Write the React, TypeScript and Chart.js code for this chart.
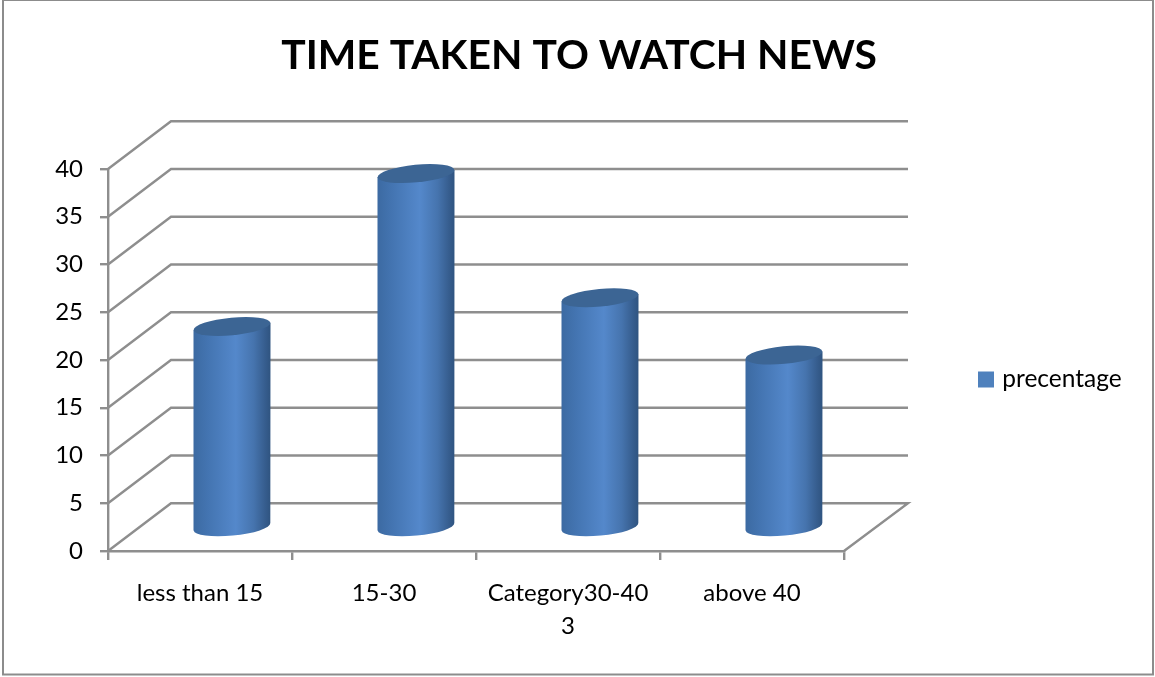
import React, { useEffect, useRef } from "react";
import { Chart, registerables } from "chart.js";

Chart.register(...registerables);

const categories: (string | string[])[] = ["less than 15", "15-30", ["Category30-40", "3"], "above 40"];
const seriesName = "precentage";
const values = [21, 37, 24, 18];
const titleText = "TIME TAKEN TO WATCH NEWS";

const FONT = "Lato, Carlito, 'Open Sans', sans-serif";
const LINE = "#8e8e8e";
const LINE_W = 2.4;
const DEPTH_X = 63;
const DEPTH_Y = -47.7;

const walls3d = {
  id: "walls3d",
  afterLayout(chart: any) {
    chart.legend.top += 41;
    chart.legend.bottom += 41;
    chart.legend.right = chart.width;
  },
  beforeDatasetsDraw(chart: any) {
    const { ctx, chartArea, scales } = chart;
    const y = scales.y;
    ctx.save();
    ctx.strokeStyle = LINE;
    ctx.lineWidth = LINE_W;
    y.ticks.forEach((_: any, i: number) => {
      const py = y.getPixelForTick(i);
      ctx.beginPath();
      ctx.moveTo(chartArea.left, py);
      ctx.lineTo(chartArea.left + DEPTH_X, py + DEPTH_Y);
      ctx.lineTo(chartArea.right + DEPTH_X + 1, py + DEPTH_Y);
      if (i === 0) ctx.lineTo(chartArea.right, py);
      ctx.stroke();
    });
    ctx.restore();

    const meta = chart.getDatasetMeta(0);
    const rot = (-5.5 * Math.PI) / 180;
    meta.data.forEach((bar: any) => {
      const cx = bar.x + 32;
      const top = bar.y - 24;
      const bottom = bar.base - 23;
      const rx = bar.width / 2;
      const ry = 8.8;
      const dy = rx * Math.sin(-rot);
      const left = cx - rx;
      const right = cx + rx;
      const g = ctx.createLinearGradient(left, 0, right, 0);
      g.addColorStop(0, "#3c6aa2");
      g.addColorStop(0.2, "#4475b2");
      g.addColorStop(0.55, "#5488cb");
      g.addColorStop(0.78, "#4674ae");
      g.addColorStop(0.93, "#365d8e");
      g.addColorStop(1, "#2f5480");
      ctx.save();
      ctx.fillStyle = g;
      ctx.beginPath();
      ctx.moveTo(left, top + dy);
      ctx.lineTo(left, bottom + dy);
      ctx.ellipse(cx, bottom, rx, ry, rot, Math.PI, 0, true);
      ctx.lineTo(right, top - dy);
      ctx.closePath();
      ctx.fill();
      ctx.fillStyle = "#3c6594";
      ctx.beginPath();
      ctx.ellipse(cx, top, rx, ry, rot, 0, Math.PI * 2);
      ctx.fill();
      ctx.restore();
    });
    return false;
  },
};

const frame = {
  id: "frame",
  beforeDraw(chart: any) {
    const { ctx } = chart;
    ctx.save();
    ctx.strokeStyle = "#8c8c8c";
    ctx.lineWidth = 2;
    ctx.strokeRect(3, 0, 1150, 674.5);
    ctx.restore();
  },
};

export default function App() {
  const ref = useRef<HTMLCanvasElement>(null);
  useEffect(() => {
    const chart = new Chart(ref.current as HTMLCanvasElement, {
      type: "bar",
      data: {
        labels: categories as any,
        datasets: [
          {
            label: seriesName,
            data: values,
            backgroundColor: "#4f81bd",
            borderColor: "#4f81bd",
            borderWidth: 8,
            barPercentage: 1,
            categoryPercentage: 77 / 184,
          },
        ],
      },
      options: {
        responsive: false,
        animation: false,
        layout: { padding: { left: 49, right: 46, top: 0, bottom: 0 } },
        plugins: {
          title: {
            display: true,
            text: titleText,
            color: "#000000",
            font: { family: FONT, size: 40.8, weight: "bold" },
            padding: { top: 31, bottom: 89 },
          },
          legend: {
            display: true,
            position: "right",
            labels: {
              color: "#000000",
              font: { family: FONT, size: 24.5 },
              boxWidth: 8,
              boxHeight: 8,
              padding: 138,
            },
          },
          tooltip: { enabled: false },
        },
        scales: {
          x: {
            afterFit: (s: any) => {
              s.height = 126;
            },
            grid: {
              display: true,
              drawOnChartArea: false,
              drawTicks: true,
              tickLength: 9,
              tickWidth: LINE_W,
              tickColor: LINE,
              color: LINE,
              lineWidth: LINE_W,
              offset: true,
            },
            border: { color: LINE, width: LINE_W },
            ticks: {
              color: "#000000",
              font: { family: FONT, size: 24, lineHeight: 1.38 },
              padding: 17,
              maxRotation: 0,
              minRotation: 0,
              autoSkip: false,
            },
          },
          y: {
            min: 0,
            max: 40,
            afterFit: (s: any) => {
              s.width = 59;
            },
            grid: {
              display: true,
              drawOnChartArea: false,
              drawTicks: true,
              tickLength: 8,
              tickWidth: LINE_W,
              tickColor: LINE,
              color: LINE,
              lineWidth: LINE_W,
            },
            border: { color: LINE, width: LINE_W },
            ticks: {
              stepSize: 5,
              color: "#000000",
              font: { family: FONT, size: 24 },
              padding: 17,
            },
          },
        },
      },
      plugins: [frame, walls3d],
    } as any);
    return () => chart.destroy();
  }, []);
  return (
    <div style={{ position: "absolute", left: 0, top: 0, width: 1155, height: 677, background: "#ffffff" }}>
      <canvas ref={ref} width={1155} height={677} style={{ display: "block" }} />
    </div>
  );
}
